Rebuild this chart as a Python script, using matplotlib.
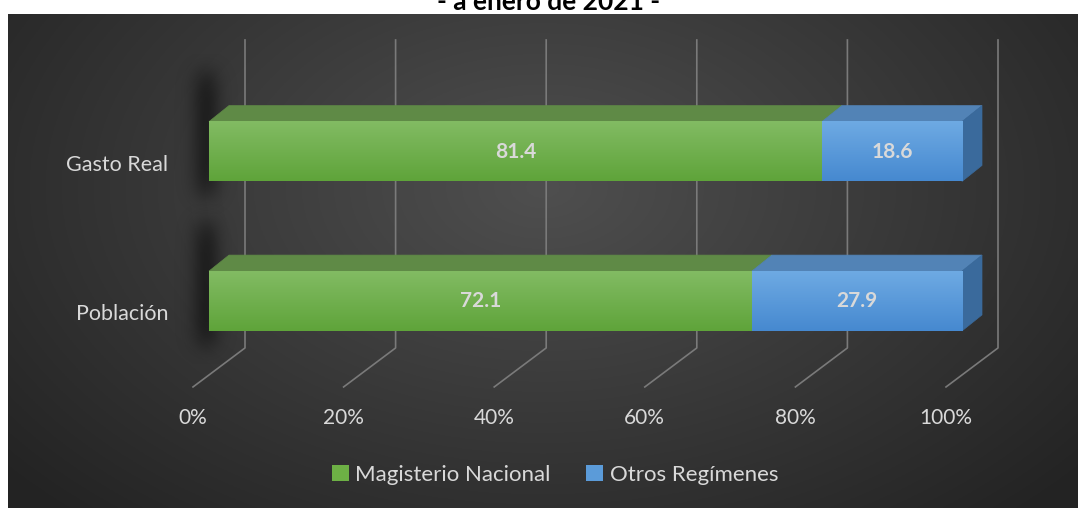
import numpy as np
import matplotlib.pyplot as plt
from matplotlib.patches import Polygon, Patch
from matplotlib.colors import LinearSegmentedColormap

categories = ['Población', 'Gasto Real']
magisterio = [72.1, 81.4]
otros = [27.9, 18.6]
series_names = ['Magisterio Nacional', 'Otros Regímenes']
ticks = [0, 20, 40, 60, 80, 100]
tick_labels = ['0%', '20%', '40%', '60%', '80%', '100%']
title = '- a enero de 2021 -'

FONT = 'Lato'
TXT = '#d9d9d9'

fig = plt.figure(figsize=(10.8, 5.08), dpi=100)
fig.patch.set_facecolor('white')

# dark background panel with radial gradient
bg = fig.add_axes([8 / 1080, 0, 1070 / 1080, 494 / 508])
yy, xx = np.mgrid[0:1:300j, 0:1:600j]
r = np.sqrt(((xx - 0.5) / 0.65) ** 2 + ((yy - 0.35) / 0.9) ** 2)
shade = np.clip(0.31 - 0.17 * r, 0.14, 0.31)
bg.imshow(np.dstack([shade] * 3), aspect='auto', extent=[0, 1, 1, 0])
bg.axis('off')

ax = fig.add_axes([0, 0, 1, 1])
ax.patch.set_alpha(0)
ax.set_xlim(-209 / 7.53, (1080 - 209) / 7.53)
ax.set_ylim(-207 / 149.5, 1 + 151.5 / 149.5)
ax.axis('off')

# perspective offsets (data units)
dx, dy = 20 / 7.53, 16 / 149.5
h = 0.40
wall_top, wall_bot, floor = 1.746, -0.314, -0.575
front_off, back_off = -16 / 7.53, 36 / 7.53

for v in ticks:
    ax.plot([v + back_off, v + back_off, v + front_off],
            [wall_top, wall_bot, floor], color='#7a7a7a', lw=1.2, zorder=1)
for v, lab in zip(ticks, tick_labels):
    ax.text(v + front_off, -0.783, lab, ha='center', va='center',
            color=TXT, fontsize=15, family=FONT)

# soft shadow behind the left end of bars
sy, sx = np.mgrid[-1:1:100j, -1:1:80j]
sh_alpha = np.exp(-((sx + 0.05) / 0.28) ** 2) * np.exp(-(sy / 0.8) ** 6) * 0.45
sh_img = np.zeros((100, 80, 4))
sh_img[..., 3] = sh_alpha
for i in range(len(categories)):
    ax.imshow(sh_img, extent=[-7, 7, i - h / 2 - 0.22, i + h / 2 + 0.45],
              aspect='auto', zorder=2, interpolation='bilinear')

green_cm = LinearSegmentedColormap.from_list('g', ['#5fa43a', '#82bb63'])
blue_cm = LinearSegmentedColormap.from_list('b', ['#4689d0', '#6eaae3'])
grad = np.linspace(0, 1, 64).reshape(-1, 1)

def bar3d(x0, x1, y, cmap, top_col, side_col, side=False):
    yb, yt = y - h / 2, y + h / 2
    ax.add_patch(Polygon([(x0, yt), (x1, yt), (x1 + dx, yt + dy), (x0 + dx, yt + dy)],
                         closed=True, fc=top_col, ec=top_col, lw=0.5, zorder=3))
    if side:
        ax.add_patch(Polygon([(x1, yb), (x1, yt), (x1 + dx, yt + dy), (x1 + dx, yb + dy)],
                             closed=True, fc=side_col, ec=side_col, lw=0.5, zorder=3))
    ax.imshow(grad, cmap=cmap, extent=[x0, x1, yb, yt], origin='lower',
              aspect='auto', zorder=4, interpolation='bilinear')

for i in range(len(categories)):
    m, o = magisterio[i], otros[i]
    bar3d(0, m, i, green_cm, '#5f8a46', '#4e7a36')
    bar3d(m, m + o, i, blue_cm, '#5283b6', '#3a6a9c', side=True)
    ax.text(m / 2, i, f'{m:.1f}', ha='center', va='center', color=TXT,
            fontsize=15, fontweight='bold', family=FONT, zorder=5)
    ax.text(m + o / 2, i, f'{o:.1f}', ha='center', va='center', color=TXT,
            fontsize=15, fontweight='bold', family=FONT, zorder=5)
    ax.text(-5.4, i - 0.09, categories[i], ha='right', va='center', color=TXT,
            fontsize=15.5, family=FONT)

handles = [Patch(fc='#6db045', ec='none'), Patch(fc='#5b9bd9', ec='none')]
fig.legend(handles, series_names, loc='center', bbox_to_anchor=(555 / 1080, 1 - 475 / 508),
           ncol=2, frameon=False, labelcolor=TXT, prop={'family': FONT, 'size': 16},
           handlelength=0.75, handleheight=0.75, handletextpad=0.3, columnspacing=1.6)

fig.text(549 / 1080, 1 - 10 / 508, title, ha='center', va='baseline',
         fontsize=19, fontweight='bold', family=FONT, color='black')

fig.savefig('out.png', dpi=100)
